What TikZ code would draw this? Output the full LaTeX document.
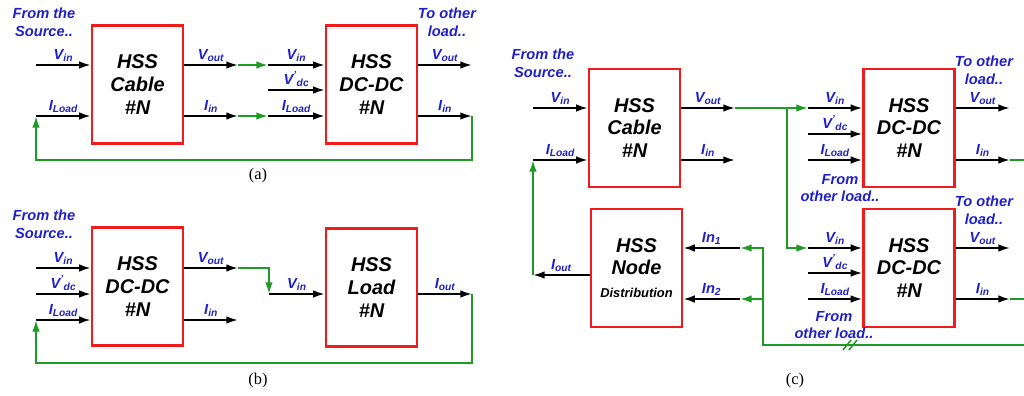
\documentclass[tikz,border=0pt]{standalone}
\usepackage{fontspec}
\setmainfont{Liberation Sans}
\newfontfamily\capfont{Liberation Serif}
\usepackage{tikz}
\usetikzlibrary{arrows.meta,positioning,calc}
\definecolor{boxred}{HTML}{F01C1C}
\definecolor{wiregreen}{HTML}{1F9A24}
\definecolor{sigblue}{HTML}{2020C8}
\newcommand{\sg}[2]{#1\textsubscript{#2}}
\newcommand{\sgp}[2]{#1\textsuperscript{'}\textsubscript{#2}}

\begin{document}
\begin{tikzpicture}[x=0.03cm, y=-0.03cm, >={Latex[length=10pt,width=6.5pt]}]
  \tikzstyle{blk}=[draw=boxred,line width=2pt,minimum width=2.73cm,minimum height=3.54cm,align=center,inner sep=0pt,font=\fontsize{17}{19.5}\selectfont\bfseries\itshape]
  \tikzstyle{wire}=[->,line width=1.6pt]
  \tikzstyle{gwire}=[->,draw=wiregreen,line width=1.6pt]
  \tikzstyle{lbl}=[text=sigblue,inner sep=0pt,font=\fontsize{12.5}{15}\selectfont\bfseries\itshape]
  \tikzstyle{note}=[lbl,align=center]
  \tikzstyle{captext}=[font=\fontsize{14}{16}\selectfont\capfont]
  \useasboundingbox (0,0) rectangle (1024,396);

  % (a) cable feeding a DC-DC converter
  \node[blk] (cabA) at (137.5,84.5) {HSS\\Cable\\\#N};
  \node[blk] (dcA) at (371.5,84.5) {HSS\\DC-DC\\\#N};
  \node[note] (srcA) at (44,22) {From the\\Source..};
  \node[note] (othA) at (447,22) {To other\\load..};
  \coordinate (aVin) at (36,65);
  \coordinate (aIld) at (36,116);
  \coordinate (aVo) at (238,65);
  \coordinate (aIo) at (238,116);
  \coordinate (aVi) at (268,65);
  \coordinate (aVdc) at (268,90);
  \coordinate (aIi) at (268,116);
  \coordinate (aVout) at (472,65);
  \coordinate (aIin) at (472,116);
  \coordinate (aRet) at (254,160);
  \draw[wire] (aVin) -- node[lbl,above=2pt] (tVinA) {\sg{V}{in}} (aVin -| cabA.west);
  \draw[wire] (aIld) -- node[lbl,above=2pt] (tIldA) {\sg{I}{Load}} (aIld -| cabA.west);
  \draw[wire] (aVo -| cabA.east) -- node[lbl,above=2pt] (tVoA) {\sg{V}{out}} (aVo);
  \draw[wire] (aIo -| cabA.east) -- node[lbl,above=2pt] (tIoA) {\sg{I}{in}} (aIo);
  \draw[gwire] (aVo) -- (aVi);
  \draw[gwire] (aIo) -- (aIi);
  \draw[wire] (aVi) -- node[lbl,above=2pt] (tViA) {\sg{V}{in}} (aVi -| dcA.west);
  \draw[wire] (aVdc) -- node[lbl,above=2pt] (tVdcA) {\sgp{V}{dc}} (aVdc -| dcA.west);
  \draw[wire] (aIi) -- node[lbl,above=2pt] (tIiA) {\sg{I}{Load}} (aIi -| dcA.west);
  \draw[wire] (aVout -| dcA.east) -- node[lbl,above=2pt] (tVoutA) {\sg{V}{out}} (aVout);
  \draw[wire] (aIin -| dcA.east) -- node[lbl,above=2pt] (tIinA) {\sg{I}{in}} (aIin);
  \draw[gwire] (aIin) |- (aRet) -| (aIld);
  \node[captext] (capA) at (258,176) {(a)};

  % (b) DC-DC converter feeding a load
  \node[blk] (dcB) at (137.5,286.5) {HSS\\DC-DC\\\#N};
  \node[blk] (ldB) at (371.5,287.5) {HSS\\Load\\\#N};
  \node[note] (srcB) at (44,224) {From the\\Source..};
  \coordinate (bVin) at (36,268);
  \coordinate (bVdc) at (36,294);
  \coordinate (bIld) at (36,320);
  \coordinate (bVo) at (238,268);
  \coordinate (bIo) at (238,320);
  \coordinate (bVi) at (269,294);
  \coordinate (bIout) at (472,294);
  \coordinate (bRet) at (254,363);
  \draw[wire] (bVin) -- node[lbl,above=2pt] (tVinB) {\sg{V}{in}} (bVin -| dcB.west);
  \draw[wire] (bVdc) -- node[lbl,above=2pt] (tVdcB) {\sgp{V}{dc}} (bVdc -| dcB.west);
  \draw[wire] (bIld) -- node[lbl,above=2pt] (tIldB) {\sg{I}{Load}} (bIld -| dcB.west);
  \draw[wire] (bVo -| dcB.east) -- node[lbl,above=2pt] (tVoB) {\sg{V}{out}} (bVo);
  \draw[wire] (bIo -| dcB.east) -- node[lbl,above=2pt] (tIoB) {\sg{I}{in}} (bIo);
  \draw[gwire] (bVo) -| (bVi);
  \draw[wire] (bVi) -- node[lbl,above=2pt] (tViB) {\sg{V}{in}} (bVi -| ldB.west);
  \draw[wire] (bIout -| ldB.east) -- node[lbl,above=2pt] (tIoutB) {\sg{I}{out}} (bIout);
  \draw[gwire] (bIout) |- (bRet) -| (bIld);
  \node[captext] (capB) at (258,381) {(b)};

  % (c) cable, two DC-DC converters and the node distribution
  \node[blk] (cabC) at (634.5,128) {HSS\\Cable\\\#N};
  \node[blk] (nodC) at (636.5,268) {HSS\\Node\\{\fontsize{11}{13}\selectfont Distribution}};
  \node[blk] (dcC1) at (909,128) {HSS\\DC-DC\\\#N};
  \node[blk] (dcC2) at (909,268) {HSS\\DC-DC\\\#N};
  \node[note] (srcC) at (543,63) {From the\\Source..};
  \node[note] (othC1) at (984,70) {To other\\load..};
  \node[note] (othC2) at (984,210) {To other\\load..};
  \node[note] (frmC1) at (840,188) {From\\other load..};
  \node[note] (frmC2) at (834,325) {From\\other load..};
  \coordinate (cVin) at (533,108);
  \coordinate (cIld) at (533,160);
  \coordinate (cVo) at (735,108);
  \coordinate (cIo) at (735,160);
  \coordinate (cSplit) at (787,108);
  \coordinate (c1Vi) at (808,108);
  \coordinate (c1Vdc) at (808,134);
  \coordinate (c1Ii) at (808,160);
  \coordinate (c1Vout) at (1010,108);
  \coordinate (c1Iin) at (1010,160);
  \coordinate (c1Edge) at (1024,160);
  \coordinate (c2Vi) at (808,248);
  \coordinate (c2Vdc) at (808,273);
  \coordinate (c2Ii) at (808,299);
  \coordinate (c2Vout) at (1010,248);
  \coordinate (c2Iin) at (1010,299);
  \coordinate (c2Edge) at (1024,299);
  \coordinate (cBack) at (1024,345);
  \coordinate (cJoin) at (763,299);
  \coordinate (cIn1) at (740,248);
  \coordinate (cIn2) at (740,299);
  \coordinate (cIout) at (533,275);
  \coordinate (cBrk) at (850,345);
  \draw[wire] (cVin) -- node[lbl,above=2pt] (tVinC) {\sg{V}{in}} (cVin -| cabC.west);
  \draw[wire] (cIld) -- node[lbl,above=2pt] (tIldC) {\sg{I}{Load}} (cIld -| cabC.west);
  \draw[wire] (cVo -| cabC.east) -- node[lbl,above=2pt] (tVoC) {\sg{V}{out}} (cVo);
  \draw[wire] (cIo -| cabC.east) -- node[lbl,above=2pt] (tIoC) {\sg{I}{in}} (cIo);
  \draw[gwire] (cVo) -- (c1Vi);
  \draw[gwire] (cSplit) |- (c2Vi);
  \draw[wire] (c1Vi) -- node[lbl,above=2pt] (tVi1) {\sg{V}{in}} (c1Vi -| dcC1.west);
  \draw[wire] (c1Vdc) -- node[lbl,above=2pt] (tVdc1) {\sgp{V}{dc}} (c1Vdc -| dcC1.west);
  \draw[wire] (c1Ii) -- node[lbl,above=2pt] (tIi1) {\sg{I}{Load}} (c1Ii -| dcC1.west);
  \draw[wire] (c1Vout -| dcC1.east) -- node[lbl,above=2pt] (tVout1) {\sg{V}{out}} (c1Vout);
  \draw[wire] (c1Iin -| dcC1.east) -- node[lbl,above=2pt] (tIin1) {\sg{I}{in}} (c1Iin);
  \draw[wiregreen,line width=1.6pt] (c1Iin) -- (c1Edge);
  \draw[wire] (c2Vi) -- node[lbl,above=2pt] (tVi2) {\sg{V}{in}} (c2Vi -| dcC2.west);
  \draw[wire] (c2Vdc) -- node[lbl,above=2pt] (tVdc2) {\sgp{V}{dc}} (c2Vdc -| dcC2.west);
  \draw[wire] (c2Ii) -- node[lbl,above=2pt] (tIi2) {\sg{I}{Load}} (c2Ii -| dcC2.west);
  \draw[wire] (c2Vout -| dcC2.east) -- node[lbl,above=2pt] (tVout2) {\sg{V}{out}} (c2Vout);
  \draw[wire] (c2Iin -| dcC2.east) -- node[lbl,above=2pt] (tIin2) {\sg{I}{in}} (c2Iin);
  \draw[wiregreen,line width=1.6pt] (c2Iin) -- (c2Edge);
  \draw[gwire] (cBack) -| (cJoin) |- (cIn1);
  \draw[gwire] (cJoin) -- (cIn2);
  \foreach \dx in {-3,3}
    \draw[wiregreen,line width=1.3pt] ($(cBrk)+(\dx-4,5)$) -- ($(cBrk)+(\dx+4,-5)$);
  \draw[wire] (cIn1) -- node[lbl,above=2pt] (tIn1) {\sg{In}{1}} (cIn1 -| nodC.east);
  \draw[wire] (cIn2) -- node[lbl,above=2pt] (tIn2) {\sg{In}{2}} (cIn2 -| nodC.east);
  \draw[wire] (cIout -| nodC.west) -- node[lbl,above=2pt] (tIoutC) {\sg{I}{out}} (cIout);
  \draw[gwire] (cIout) -- (cIld);
  \node[captext] (capC) at (795,381) {(c)};
\end{tikzpicture}
\end{document}
